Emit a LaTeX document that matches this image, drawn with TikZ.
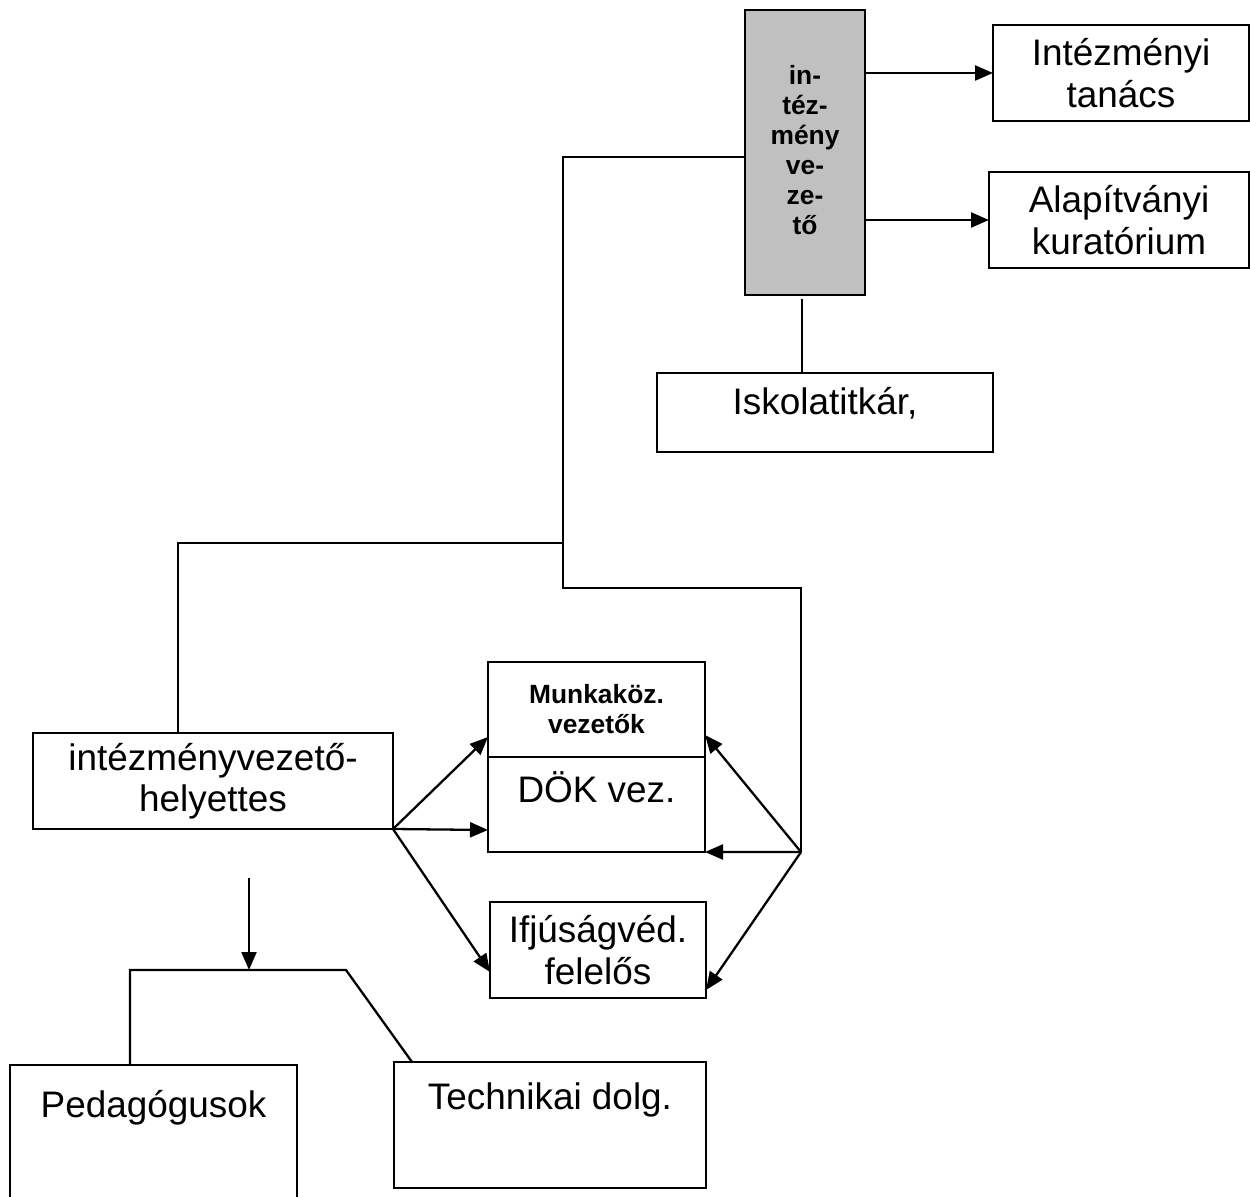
\documentclass[tikz,border=0pt]{standalone}
\usepackage{fontspec}
\setmainfont{Liberation Sans}
\usetikzlibrary{arrows.meta,calc}
\begin{document}
\begin{tikzpicture}[
  line width=1.3pt,
  box/.style={draw=black, line width=1.3pt, inner sep=0pt, outer sep=0pt},
  txt/.style={align=center, inner sep=0pt, font=\fontsize{21}{23.5}\selectfont},
  btxt/.style={align=center, inner sep=0pt, font=\fontsize{15}{17}\selectfont\bfseries},
  arr/.style={-{Triangle[length=0.36cm,width=0.3cm]}},
  conn/.style={line width=1.3pt}
]
\useasboundingbox (0,0) rectangle (25,-23.94);
% boxes
\node[box, fill={rgb,255:red,192;green,192;blue,192}, minimum width=2.4cm, minimum height=5.7cm] (vez) at (16.1,-3.05) {};
\node[box, minimum width=5.12cm, minimum height=1.92cm] (tan) at (22.42,-1.46) {};
\node[box, minimum width=5.2cm, minimum height=1.92cm] (alap) at (22.38,-4.4) {};
\node[box, minimum width=6.72cm, minimum height=1.58cm] (isk) at (16.5,-8.25) {};
\node[box, minimum width=7.2cm, minimum height=1.92cm] (hely) at (4.26,-15.62) {};
\node[box, minimum width=4.34cm, minimum height=1.9cm] (munk) at (11.93,-14.19) {};
\node[box, minimum width=4.34cm, minimum height=1.9cm] (dok) at (11.93,-16.09) {};
\node[box, minimum width=4.32cm, minimum height=1.92cm] (ifj) at (11.96,-19.0) {};
\node[box, minimum width=5.74cm, minimum height=3.2cm] (ped) at (3.07,-22.9) {};
\node[box, minimum width=6.24cm, minimum height=2.52cm] (tech) at (11.0,-22.5) {};
% texts
\node[btxt] (vezT) at (16.1,-3.0) {in-\\téz-\\mény\\ve-\\ze-\\tő};
\node[txt] (tanT) at (tan.center) {Intézményi\\tanács};
\node[txt] (alapT) at (alap.center) {Alapítványi\\kuratórium};
\node[txt] (iskT) at ($(isk.north)+(0,-0.6)$) {Iskolatitkár,};
\node[txt] (helyT) at (hely.center) {intézményvezető-\\helyettes};
\node[btxt] (munkT) at (munk.center) {Munkaköz.\\vezetők};
\node[txt] (dokT) at ($(dok.north)+(0,-0.6)$) {DÖK vez.};
\node[txt] (ifjT) at (ifj.center) {Ifjúságvéd.\\felelős};
\node[txt] (pedT) at ($(ped.north)+(0,-0.86)$) {Pedagógusok};
\node[txt] (techT) at ($(tech.north)+(0,-0.76)$) {Technikai dolg.};
% coordinates
\coordinate (j1) at (11.26,-10.86);
\coordinate (R) at (16.02,-17.04);
\coordinate (L) at (hely.south east);
\coordinate (dtop) at (4.98,-17.56);
\coordinate (dbot) at (4.98,-19.4);
\coordinate (bl) at (2.6,-19.4);
\coordinate (br) at (6.92,-19.4);
\coordinate (sv) at (16.04,-5.98);
% connectors top
\draw[arr] (vez.east |- 0,-1.46) -- (tan.west |- 0,-1.46);
\draw[arr] (vez.east |- 0,-4.4) -- (alap.west |- 0,-4.4);
\draw[conn] (sv) -- (isk.north -| sv);
\draw[conn] (vez.west |- 0,-3.14) -- (11.26,-3.14) -- (j1) -- (11.26,-11.76) -- (16.02,-11.76) -- (R);
\draw[conn] (j1) -- (3.56,-10.86) -- (hely.north -| 3.56,0);
% fan left
\draw[arr] (L) -- (munk.west |- 0,-14.74);
\draw[arr] (L) -- (dok.west |- 0,-16.6);
\draw[arr] (L) -- (ifj.west |- 0,-19.44);
% fan right
\draw[arr] (R) -- (munk.east |- 0,-14.7);
\draw[arr] (R) -- (dok.south east);
\draw[arr] (R) -- (ifj.east |- 0,-19.8);
% bottom
\draw[arr] (dtop) -- (dbot);
\draw[conn] (ped.north -| bl) -- (bl) -- (br) -- (tech.north -| 8.24,0);
\end{tikzpicture}
\end{document}
